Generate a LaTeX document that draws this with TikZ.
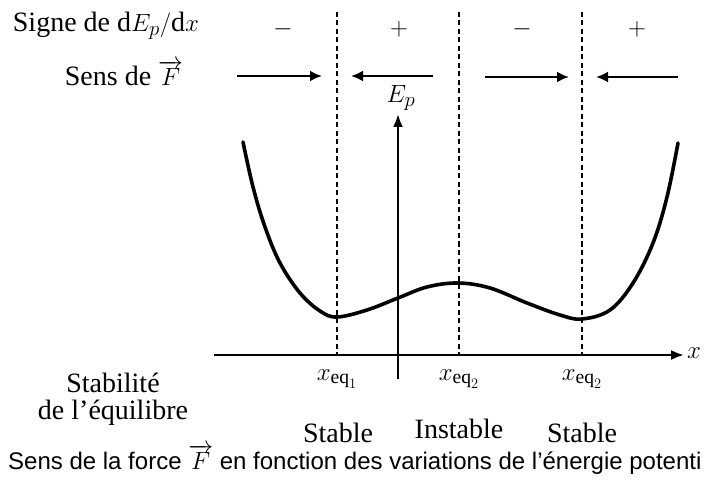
\documentclass[tikz,border=0pt]{standalone}
\usepackage{fontspec}
\setmainfont{Liberation Serif}
\setsansfont{Liberation Sans}
\usetikzlibrary{arrows.meta}
\begin{document}
\begin{tikzpicture}[x=1pt,y=-1pt,
  every node/.style={font=\fontsize{28}{32}\selectfont,inner sep=0pt},
  sign/.style={font=\fontsize{36}{38}\selectfont},
  force/.style={-{Latex[length=12pt,width=11pt]},line width=2.6pt},
  axis/.style={-{Latex[length=13pt,width=10pt]},line width=2.2pt},
  eqline/.style={line width=1.3pt,dash pattern=on 5pt off 3.5pt}]
  \useasboundingbox (0,0) rectangle (704,497);
  % equilibrium positions
  \foreach \xe/\nm in {337/a,459/b,582/c}{
    \coordinate (top\nm) at (\xe,12);
    \coordinate (bot\nm) at (\xe,355);
    \draw[eqline] (top\nm) -- (bot\nm);
  }
  % row of signs
  \node (signe) at (106,26) {Signe de d$E_p/$d$x$};
  \node[sign] (sa) at (283,29) {$-$};
  \node[sign] (sb) at (399,29) {$+$};
  \node[sign] (sc) at (522,29) {$-$};
  \node[sign] (sd) at (637,29) {$+$};
  % row of forces
  \node (sens) at (124,73) {Sens de $\overrightarrow{F}$};
  \coordinate (fa1) at (237,76); \coordinate (fa2) at (322,76);
  \coordinate (fb1) at (433,76); \coordinate (fb2) at (351,76);
  \coordinate (fc1) at (485,77); \coordinate (fc2) at (569,77);
  \coordinate (fd1) at (678,77); \coordinate (fd2) at (596,77);
  \draw[force] (fa1) -- (fa2);
  \draw[force] (fb1) -- (fb2);
  \draw[force] (fc1) -- (fc2);
  \draw[force] (fd1) -- (fd2);
  % axes
  \coordinate (xo) at (214,355); \coordinate (xe) at (684,355);
  \coordinate (yo) at (398,379); \coordinate (ye) at (398,114);
  \draw[axis] (xo) -- (xe);
  \draw[axis] (yo) -- (ye);
  \node[font=\fontsize{31}{34}\selectfont] (xlab) at (694,353) {$x$};
  \node[font=\fontsize{32}{34}\selectfont] (ylab) at (401,98) {$E_p$};
  % potential energy
  \draw[line width=3.6pt,line cap=round] plot[smooth,tension=0.6] coordinates {
    (243,142) (253,187) (265,227) (280,263) (300,293) (320,311) (337,317)
    (367,310) (398,298) (427,287) (458,283) (490,288) (527,303) (560,315)
    (582,319) (610,310) (633,283) (653,243) (667,197) (678,143)};
  % equilibrium labels
  \node[font=\fontsize{28}{30}\selectfont] (xa) at (337,379) {$x_{\mathrm{eq}_1}$};
  \node[font=\fontsize{28}{30}\selectfont] (xb) at (459,379) {$x_{\mathrm{eq}_2}$};
  \node[font=\fontsize{28}{30}\selectfont] (xc) at (582,379) {$x_{\mathrm{eq}_2}$};
  \node (stab) at (113,383) {Stabilité};
  \node (equi) at (113,413) {de l’équilibre};
  \node (ea) at (338,433) {Stable};
  \node (eb) at (459,429) {Instable};
  \node (ec) at (582,433) {Stable};
  % caption
  \node[anchor=base west,font=\sffamily\fontsize{24}{28}\selectfont] (cap) at (8,469)
    {Sens de la force $\overrightarrow{F}$ en fonction des variations de l’énergie potenti};
\end{tikzpicture}
\end{document}
